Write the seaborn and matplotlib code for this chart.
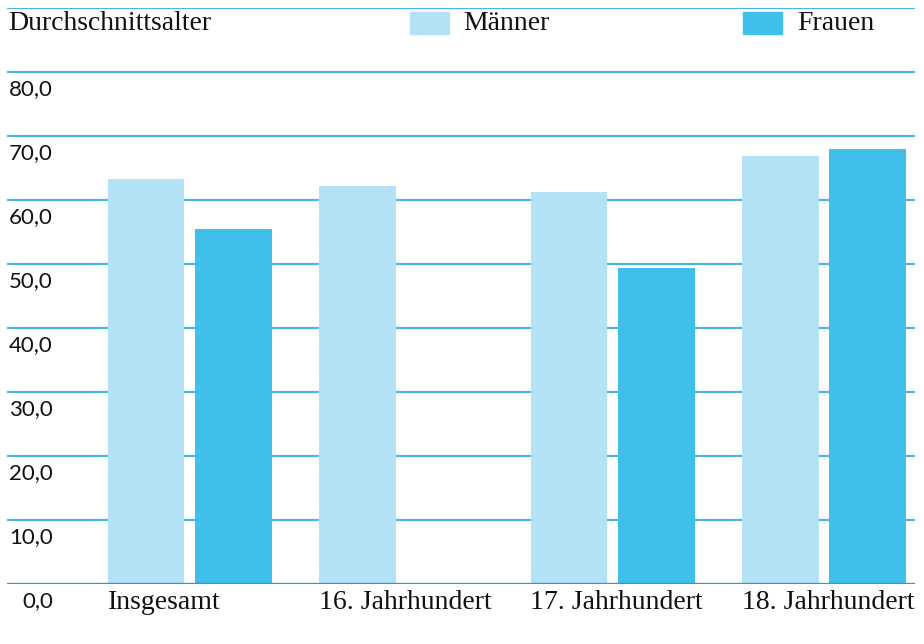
import matplotlib
matplotlib.use("Agg")
import matplotlib.pyplot as plt
import matplotlib.transforms as mtransforms
from matplotlib.patches import Rectangle
import pandas as pd
import seaborn as sns

# Daten
kategorien = ["Insgesamt", "16. Jahrhundert", "17. Jahrhundert", "18. Jahrhundert"]
maenner = [63.3, 62.2, 61.3, 66.9]
frauen = [55.4, None, 49.4, 68.0]
y_ticks = [0, 10, 20, 30, 40, 50, 60, 70, 80]
y_labels = ["0,0", "10,0", "20,0", "30,0", "40,0", "50,0", "60,0", "70,0", "80,0"]
serien = ["Männer", "Frauen"]

farben = {"Männer": "#b3e1f5", "Frauen": "#41bfeb"}
linie = "#4ab6e4"
serif = ["Liberation Serif", "DejaVu Serif"]
sans = ["Lato", "DejaVu Sans"]

rows = []
for k, m, f in zip(kategorien, maenner, frauen):
    rows.append({"kategorie": k, "geschlecht": "Männer", "alter": m})
    if f is not None:
        rows.append({"kategorie": k, "geschlecht": "Frauen", "alter": f})
df = pd.DataFrame(rows)

sns.set_style("white")
fig = plt.figure(figsize=(9.24, 6.44), dpi=100)
ax = fig.add_axes([7 / 924, 1 - 584 / 644, 908 / 924, 576 / 644])

sns.barplot(data=df, x="kategorie", y="alter", hue="geschlecht",
            order=kategorien, hue_order=serien, palette=farben,
            width=0.825, gap=0.12, saturation=1, legend=False,
            linewidth=0, edgecolor="none", ax=ax)

ax.set_ylim(0, 90)
ax.set_xlim(-0.863, 3.43)

# Gitterlinien
for v in range(10, 100, 10):
    ax.axhline(v, color=linie, lw=1.6, zorder=0)
ax.axhline(0, color="#1c9fda", lw=2.4, zorder=3)

for s in ax.spines.values():
    s.set_visible(False)
ax.set_xlabel("")
ax.set_ylabel("")
ax.tick_params(length=0)
ax.set_yticks([])

# x-Beschriftung linksbündig an der Balkenkante
ax.set_xticks([i - 0.388 for i in range(len(kategorien))])
ax.set_xticklabels(kategorien, ha="left", fontsize=20, family=serif, color="#111111")
ax.tick_params(axis="x", pad=4)

# y-Beschriftung unter der jeweiligen Linie
trans = mtransforms.blended_transform_factory(fig.transFigure, ax.transData)
trans = mtransforms.offset_copy(trans, fig=fig, y=-5, units="points")
for v, lab in zip(y_ticks, y_labels):
    ax.text(53 / 924, v, lab, transform=trans, ha="right", va="top",
            fontsize=16, family=sans, color="#111111")

# Titel und Legende
fig.text(8 / 924, 1 - 24 / 644, "Durchschnittsalter", ha="left", va="center",
         fontsize=20, family=serif, color="#111111")
for name, x0, xt in [("Männer", 410, 463), ("Frauen", 743, 797)]:
    fig.patches.append(Rectangle((x0 / 924, 1 - 34 / 644), 39 / 924, 22 / 644,
                                 transform=fig.transFigure, color=farben[name]))
    fig.text(xt / 924, 1 - 24 / 644, name, ha="left", va="center",
             fontsize=20, family=serif, color="#111111")

fig.savefig("out.png", dpi=100)
